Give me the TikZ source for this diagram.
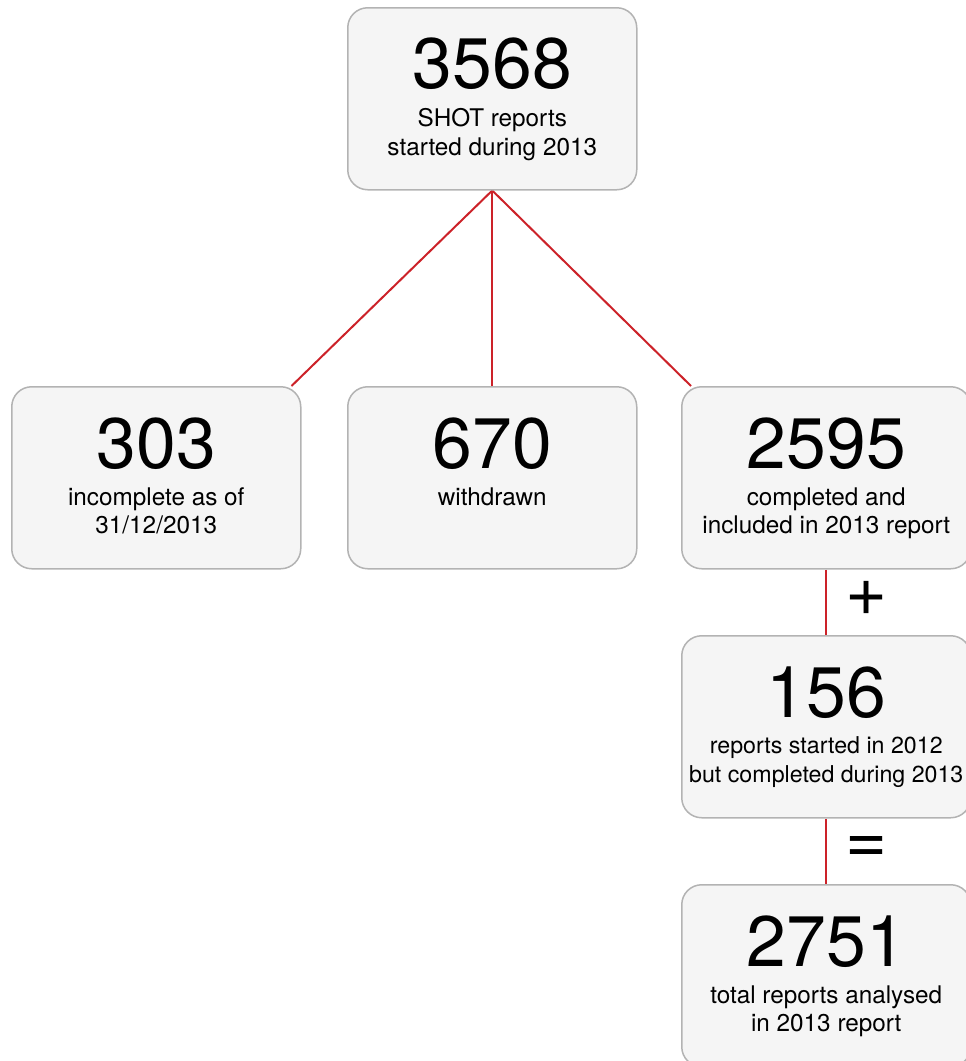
\documentclass[tikz,border=0pt]{standalone}
\usepackage{fontspec}
\setmainfont{TeX Gyre Heros}
\usetikzlibrary{calc,backgrounds}
\definecolor{boxfill}{HTML}{F5F5F5}
\definecolor{boxline}{HTML}{B3B3B3}
\definecolor{linkred}{HTML}{CC2229}
\begin{document}
\begin{tikzpicture}[x=1pt,y=-1pt,
  card/.style={draw=boxline,fill=boxfill,line width=1.5pt,rounded corners=20pt,
    minimum width=289pt,minimum height=182pt,inner sep=0pt,anchor=north west},
  big/.style={anchor=base,inner sep=0pt,font=\fontsize{71.5}{71.5}\selectfont},
  small/.style={anchor=base,inner sep=0pt,font=\fontsize{24.3}{29}\selectfont},
  narrow/.style={font=\fontsize{23.2}{29}\selectfont},
  sign/.style={inner sep=0pt,font=\fontsize{72}{72}\selectfont},
  link/.style={draw=linkred,line width=2pt}]
\clip (0,0) rectangle (966,1061);
% boxes
\node[card] (top) at (347,7) {};
\node[card] (b1) at (11,386) {};
\node[card] (b2) at (347,386) {};
\node[card] (b3) at (681,386) {};
\node[card] (b4) at (681,635) {};
\node[card] (b5) at (681,884) {};
% texts
\node[big] (t0) at ($(top.north)+(0,81)$) {3568};
\node[small] (t0a) at ($(top.north)+(0,119)$) {SHOT reports};
\node[small] (t0b) at ($(top.north)+(0,148)$) {started during 2013};
\node[big] (t1) at ($(b1.north)+(0,82)$) {303};
\node[small] (t1a) at ($(b1.north)+(0,119)$) {incomplete as of};
\node[small] (t1b) at ($(b1.north)+(0,147)$) {31/12/2013};
\node[big] (t2) at ($(b2.north)+(0,82)$) {670};
\node[small] (t2a) at ($(b2.north)+(0,119)$) {withdrawn};
\node[big] (t3) at ($(b3.north)+(0,82)$) {2595};
\node[small] (t3a) at ($(b3.north)+(0,119)$) {completed and};
\node[small] (t3b) at ($(b3.north)+(0,147)$) {included in 2013 report};
\node[big] (t4) at ($(b4.north)+(0,82)$) {156};
\node[small,narrow] (t4a) at ($(b4.north)+(0,118)$) {reports started in 2012};
\node[small,narrow] (t4b) at ($(b4.north)+(0,147)$) {but completed during 2013};
\node[big] (t5) at ($(b5.north)+(0,82)$) {2751};
\node[small] (t5a) at ($(b5.north)+(0,119)$) {total reports analysed};
\node[small] (t5b) at ($(b5.north)+(0,147)$) {in 2013 report};
% signs
\node[sign] (plus) at (867,598) {+};
\node[sign] (equals) at (867,850) {=};
% connectors
\begin{scope}[on background layer]
\draw[link] (top.south) -- ($(b1.north east)+(-10,0)$);
\draw[link] (top.south) -- (b2.north);
\draw[link] (top.south) -- ($(b3.north west)+(10,0)$);
\draw[link] (b3.south) -- (b4.north);
\draw[link] (b4.south) -- (b5.north);
\end{scope}
\end{tikzpicture}
\end{document}
